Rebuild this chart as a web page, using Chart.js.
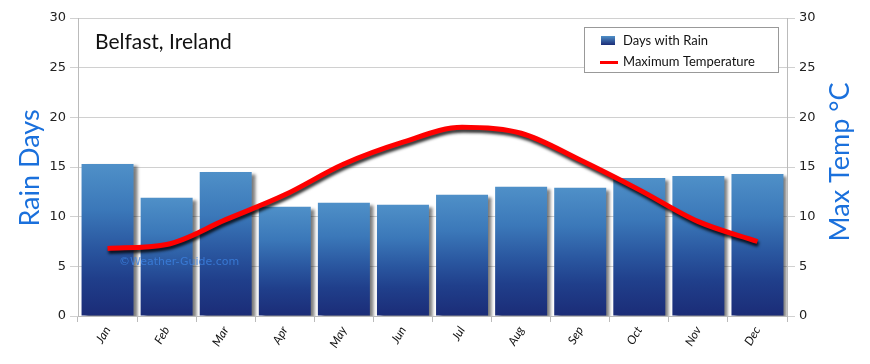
<!DOCTYPE html>
<html>
<head>
<meta charset="utf-8">
<script src="https://cdn.jsdelivr.net/npm/chart.js@4/dist/chart.umd.min.js"></script>
<style>
  html, body { margin: 0; padding: 0; background: #fff; }
  #wrap { width: 870px; height: 364px; position: relative; }
</style>
</head>
<body>
<div id="wrap"><canvas id="c" width="870" height="364"></canvas></div>
<script>
const months = ['Jan','Feb','Mar','Apr','May','Jun','Jul','Aug','Sep','Oct','Nov','Dec'];
const rainDays = [15.3, 11.9, 14.5, 11.0, 11.4, 11.2, 12.2, 13.0, 12.9, 13.9, 14.1, 14.3];
const maxTemp = [6.8, 7.2, 9.7, 12.2, 15.3, 17.5, 19.0, 18.4, 15.7, 12.7, 9.5, 7.5];
const titleText = 'Belfast, Ireland';
const leftTitle = 'Rain Days';
const rightTitle = 'Max Temp °C';
const legendLabels = ['Days with Rain', 'Maximum Temperature'];
const watermark = '©Weather-Guide.com';

const HAND = '"Lato", "Open Sans", sans-serif';
const TICK = '"DejaVu Sans", sans-serif';

function barGradient(context) {
  const chart = context.chart;
  const { chartArea, scales } = chart;
  if (!chartArea) return '#2c5ea6';
  const v = context.raw;
  const top = scales.y.getPixelForValue(v);
  const bottom = scales.y.getPixelForValue(0);
  const g = chart.ctx.createLinearGradient(0, top, 0, bottom);
  g.addColorStop(0, '#4f90c8');
  g.addColorStop(0.3, '#3b78b9');
  g.addColorStop(0.55, '#2a57a0');
  g.addColorStop(0.75, '#203f8b');
  g.addColorStop(1, '#1b2c77');
  return g;
}

const shadowPlugin = {
  id: 'shadows',
  beforeDatasetDraw(chart, args) {
    const ctx = chart.ctx;
    ctx.save();
    if (args.meta.type === 'bar') {
      ctx.shadowColor = 'rgba(0,0,0,0.5)';
      ctx.shadowOffsetX = 4;
      ctx.shadowOffsetY = 2;
      ctx.shadowBlur = 3;
    } else {
      ctx.shadowColor = 'rgba(0,0,0,0.8)';
      ctx.shadowOffsetX = 1;
      ctx.shadowOffsetY = 3;
      ctx.shadowBlur = 3;
    }
  },
  afterDatasetDraw(chart) {
    chart.ctx.restore();
  }
};

const decoPlugin = {
  id: 'deco',
  afterDatasetsDraw(chart) {
    const ctx = chart.ctx;
    ctx.save();
    ctx.font = '11px ' + TICK;
    ctx.fillStyle = 'rgba(60,130,225,0.8)';
    ctx.textBaseline = 'middle';
    ctx.textAlign = 'left';
    ctx.fillText(watermark, 119, 262);
    ctx.restore();
  },
  afterDraw(chart) {
    const ctx = chart.ctx;
    ctx.save();
    ctx.font = '21px ' + HAND;
    ctx.fillStyle = '#111';
    ctx.textBaseline = 'middle';
    ctx.textAlign = 'left';
    ctx.fillText(titleText, 95, 42);

    ctx.font = '27px ' + HAND;
    ctx.fillStyle = '#1a70dc';
    ctx.textAlign = 'center';
    ctx.save();
    ctx.translate(30, 168);
    ctx.rotate(-Math.PI / 2);
    ctx.fillText(leftTitle, 0, 0);
    ctx.restore();
    ctx.save();
    ctx.translate(840, 162);
    ctx.rotate(-Math.PI / 2);
    ctx.fillText(rightTitle, 0, 0);
    ctx.restore();

    ctx.fillStyle = '#fff';
    ctx.fillRect(584.5, 27.5, 194, 45);
    ctx.strokeStyle = '#999';
    ctx.lineWidth = 1;
    ctx.strokeRect(584.5, 27.5, 194, 45);
    const sg = ctx.createLinearGradient(0, 36, 0, 45);
    sg.addColorStop(0, '#4f90c8');
    sg.addColorStop(1, '#1b2c77');
    ctx.fillStyle = sg;
    ctx.fillRect(601, 36, 14, 9);
    ctx.strokeStyle = '#ff0000';
    ctx.lineWidth = 3;
    ctx.beginPath();
    ctx.moveTo(600, 62.5);
    ctx.lineTo(618, 62.5);
    ctx.stroke();
    ctx.font = '13px ' + HAND;
    ctx.fillStyle = '#111';
    ctx.textAlign = 'left';
    ctx.fillText(legendLabels[0], 623, 41);
    ctx.fillText(legendLabels[1], 623, 62);
    ctx.restore();
  }
};

new Chart(document.getElementById('c'), {
  type: 'bar',
  data: {
    labels: months,
    datasets: [
      {
        type: 'bar',
        label: legendLabels[0],
        data: rainDays,
        yAxisID: 'y',
        backgroundColor: barGradient,
        borderWidth: 0,
        barPercentage: 0.88,
        categoryPercentage: 1.0,
        order: 2
      },
      {
        type: 'line',
        label: legendLabels[1],
        data: maxTemp,
        yAxisID: 'y1',
        borderColor: '#ff0000',
        borderWidth: 5,
        pointRadius: 0,
        cubicInterpolationMode: 'monotone',
        fill: false,
        order: 1
      }
    ]
  },
  options: {
    responsive: false,
    animation: false,
    devicePixelRatio: 1,
    layout: { padding: { top: 18, left: 0, right: 0, bottom: 0 } },
    plugins: {
      legend: { display: false },
      tooltip: { enabled: false },
      title: { display: false }
    },
    scales: {
      x: {
        offset: true,
        grid: { display: true, drawOnChartArea: false, drawTicks: true, tickLength: 6, color: '#bbb', offset: true },
        border: { display: true, color: '#bbb' },
        ticks: {
          minRotation: 60, maxRotation: 60, autoSkip: false,
          color: '#111',
          font: { family: HAND, size: 12, style: 'italic' },
          padding: 2
        },
        afterFit(s) { s.height = 48; }
      },
      y: {
        position: 'left',
        min: 0, max: 30,
        ticks: { stepSize: 5, color: '#222', font: { family: TICK, size: 13 }, padding: 4 },
        grid: { color: '#d0d0d0', tickLength: 8 },
        border: { display: true, color: '#bbb' },
        afterFit(s) { s.width = 78; }
      },
      y1: {
        position: 'right',
        min: 0, max: 30,
        ticks: { stepSize: 5, color: '#222', font: { family: TICK, size: 13 }, padding: 4 },
        grid: { drawOnChartArea: false, color: '#d0d0d0', tickLength: 8 },
        border: { display: true, color: '#bbb' },
        afterFit(s) { s.width = 83; }
      }
    }
  },
  plugins: [shadowPlugin, decoPlugin]
});
</script>
</body>
</html>
